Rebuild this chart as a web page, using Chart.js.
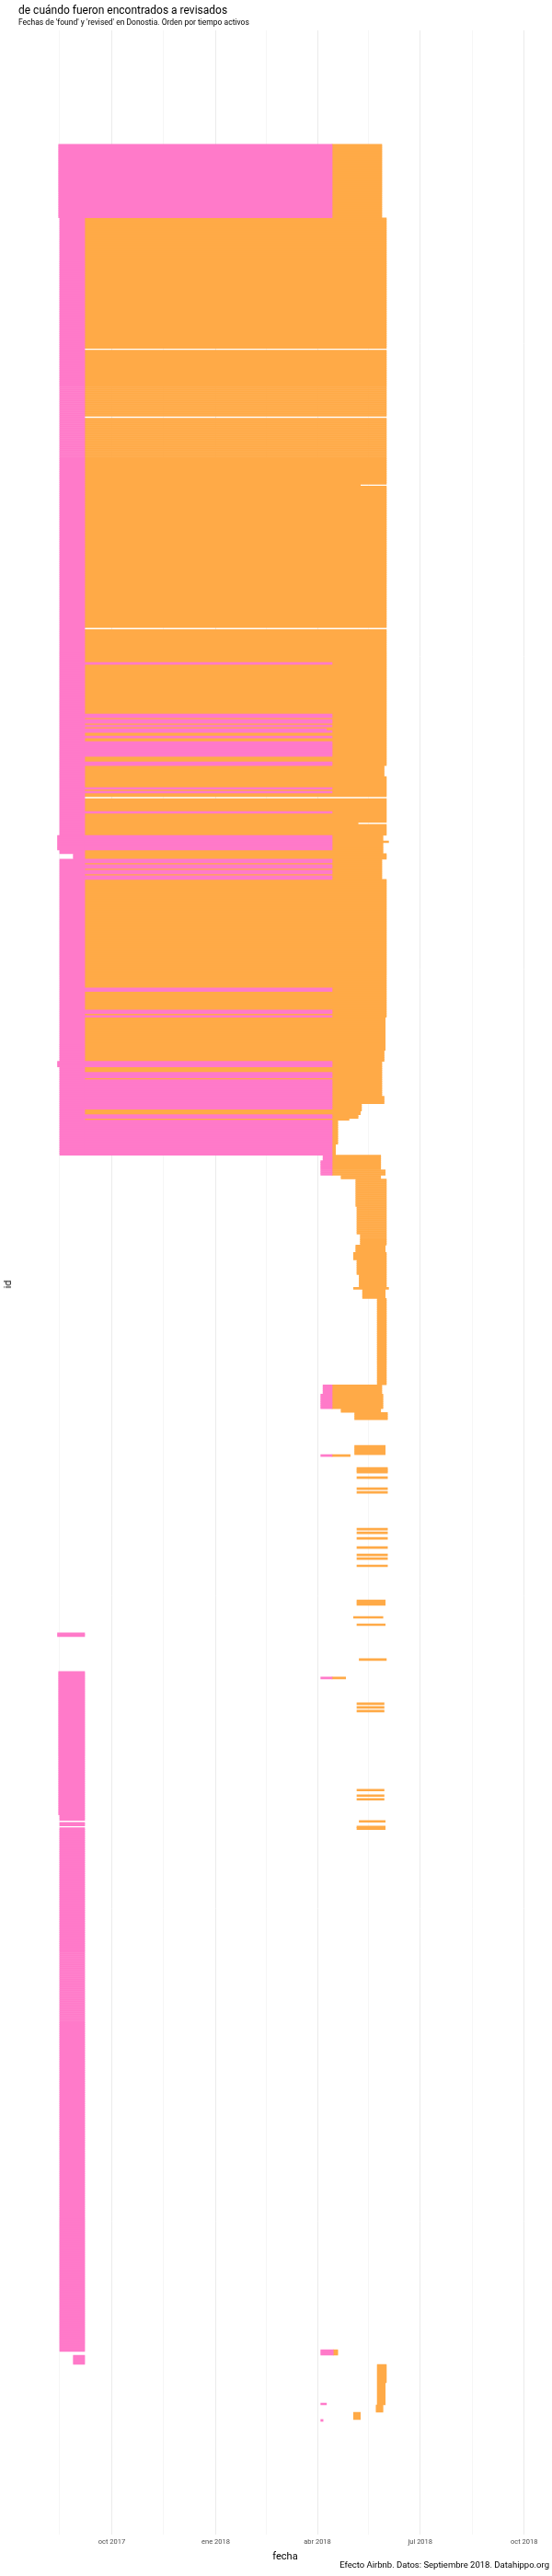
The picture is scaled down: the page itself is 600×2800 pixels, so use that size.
<!DOCTYPE html>
<html lang="es">
<head>
<meta charset="utf-8">
<title>Donostia: found y revised</title>
<script src="https://cdn.jsdelivr.net/npm/chart.js@4.4.1/dist/chart.umd.min.js"></script>
<style>
  html, body { margin: 0; padding: 0; background: #fff; }
  #wrap { position: relative; width: 600px; height: 2800px; }
  #title { position: absolute; left: 20px; top: 4px; font: 12px/14px Roboto, sans-serif; color: #000; white-space: nowrap; }
  #subtitle { position: absolute; left: 20px; top: 19px; font: 8.5px/10px Roboto, sans-serif; color: #000; white-space: nowrap; }
  #caption { position: absolute; right: 3px; top: 2782px; font: 9.5px/12px 'Liberation Sans Narrow', Roboto, sans-serif; color: #000; white-space: nowrap; }
  #ylabel { position: absolute; left: 9px; top: 1396px; font: 11px/12px 'Liberation Sans Narrow', Roboto, sans-serif; color: #000;
            transform: translate(-50%, -50%) rotate(-90deg); white-space: nowrap; }
</style>
</head>
<body>
<div id="wrap">
  <canvas id="segments"></canvas>
  <div id="title">de cuándo fueron encontrados a revisados</div>
  <div id="subtitle">Fechas de 'found' y 'revised' en Donostia. Orden por tiempo activos</div>
  <div id="ylabel">id</div>
  <div id="caption">Efecto Airbnb. Datos: Septiembre 2018. Datahippo.org</div>
</div>
<script>
// Axis range and ticks
const xStart = '2017-07-12';
const xEnd = '2018-10-24';
const rowMin = -62.5;
const rowMax = 1300;
const tickDates = ['2017-10-01', '2018-01-01', '2018-04-01', '2018-07-01', '2018-10-01'];
const tickLabels = ['oct 2017', 'ene 2018', 'abr 2018', 'jul 2018', 'oct 2018'];
const minorDates = ['2017-08-16', '2017-11-16', '2018-02-15', '2018-05-16', '2018-08-16'];

// [first row, rows, from, to]  - 'found' segments (pink)
const pinkRuns = [
  [0, 40, '2017-08-15', '2018-04-14'],
  [40, 346, '2017-08-16', '2017-09-07'],
  [386, 3, '2017-08-28', '2017-09-07'],
  [389, 161, '2017-08-16', '2017-09-07'],
  [376, 8, '2017-08-14', '2017-09-07'],
  [499, 3, '2017-08-14', '2017-09-07'],
  [282, 1, '2017-09-07', '2018-04-14'],
  [310, 2, '2017-09-07', '2018-04-14'],
  [313, 2, '2017-09-07', '2018-04-14'],
  [316, 1, '2017-09-07', '2018-04-14'],
  [318, 1, '2017-09-07', '2018-04-09'],
  [319, 1, '2017-09-07', '2018-04-14'],
  [322, 1, '2017-09-07', '2018-04-14'],
  [325, 8, '2017-09-07', '2018-04-14'],
  [336, 2, '2017-09-07', '2018-04-14'],
  [350, 1, '2017-09-07', '2018-04-14'],
  [352, 1, '2017-09-07', '2018-04-14'],
  [363, 1, '2017-09-07', '2018-04-14'],
  [376, 8, '2017-09-07', '2018-04-14'],
  [389, 2, '2017-09-07', '2018-04-14'],
  [392, 2, '2017-09-07', '2018-04-14'],
  [395, 2, '2017-09-07', '2018-04-14'],
  [398, 2, '2017-09-07', '2018-04-14'],
  [459, 2, '2017-09-07', '2018-04-14'],
  [471, 2, '2017-09-07', '2018-04-14'],
  [474, 1, '2017-09-07', '2018-04-14'],
  [499, 3, '2017-09-07', '2018-04-14'],
  [505, 3, '2017-09-07', '2018-04-14'],
  [509, 9, '2017-09-07', '2018-04-14'],
  [518, 4, '2017-09-07', '2018-04-14'],
  [522, 3, '2017-09-07', '2018-04-14'],
  [528, 2, '2017-09-07', '2018-04-14'],
  [531, 13, '2017-09-07', '2018-04-14'],
  [544, 6, '2017-09-07', '2018-04-14'],
  [550, 3, '2018-04-06', '2018-04-14'],
  [553, 8, '2018-04-04', '2018-04-14'],
  [675, 5, '2018-04-06', '2018-04-14'],
  [680, 8, '2018-04-04', '2018-04-14'],
  [713, 1, '2018-04-04', '2018-04-14'],
  [810, 2, '2017-08-14', '2017-09-07'],
  [831, 78, '2017-08-15', '2017-09-07'],
  [834, 1, '2018-04-04', '2018-04-14'],
  [909, 3, '2017-08-16', '2017-09-07'],
  [913, 2, '2017-08-16', '2017-09-07'],
  [916, 285, '2017-08-16', '2017-09-07'],
  [1200, 3, '2018-04-04', '2018-04-15'],
  [1203, 5, '2017-08-28', '2017-09-07'],
  [1229, 1, '2018-04-04', '2018-04-09'],
  [1238, 1, '2018-04-04', '2018-04-06']
];

// [first row, rows, from, to]  - 'revised' segments (orange)
const orangeRuns = [
  [0, 40, '2018-04-14', '2018-05-28'],
  [40, 71, '2017-09-07', '2018-06-01'],
  [112, 36, '2017-09-07', '2018-06-01'],
  [149, 36, '2017-09-07', '2018-06-01'],
  [185, 1, '2017-09-07', '2018-05-09'],
  [186, 77, '2017-09-07', '2018-06-01'],
  [264, 18, '2017-09-07', '2018-06-01'],
  [282, 1, '2018-04-14', '2018-06-01'],
  [283, 27, '2017-09-07', '2018-06-01'],
  [310, 2, '2018-04-14', '2018-06-01'],
  [312, 1, '2017-09-07', '2018-06-01'],
  [313, 2, '2018-04-14', '2018-06-01'],
  [315, 1, '2017-09-07', '2018-06-01'],
  [316, 1, '2018-04-14', '2018-06-01'],
  [317, 1, '2017-09-07', '2018-06-01'],
  [318, 1, '2018-04-09', '2018-06-01'],
  [319, 1, '2018-04-14', '2018-06-01'],
  [320, 2, '2017-09-07', '2018-06-01'],
  [322, 1, '2018-04-14', '2018-06-01'],
  [323, 2, '2017-09-07', '2018-06-01'],
  [325, 8, '2018-04-14', '2018-06-01'],
  [333, 3, '2017-09-07', '2018-06-01'],
  [336, 2, '2018-04-14', '2018-06-01'],
  [338, 6, '2017-09-07', '2018-05-30'],
  [344, 6, '2017-09-07', '2018-06-01'],
  [350, 1, '2018-04-14', '2018-06-01'],
  [351, 1, '2017-09-07', '2018-06-01'],
  [352, 1, '2018-04-14', '2018-06-01'],
  [353, 2, '2017-09-07', '2018-06-01'],
  [356, 7, '2017-09-07', '2018-06-01'],
  [363, 1, '2018-04-14', '2018-06-01'],
  [364, 5, '2017-09-07', '2018-06-01'],
  [369, 1, '2017-09-07', '2018-05-07'],
  [370, 6, '2017-09-07', '2018-06-01'],
  [376, 8, '2018-04-14', '2018-05-29'],
  [379, 1, '2018-04-14', '2018-06-03'],
  [384, 2, '2017-09-07', '2018-05-29'],
  [386, 3, '2017-09-07', '2018-06-01'],
  [389, 2, '2018-04-14', '2018-05-28'],
  [391, 1, '2017-09-07', '2018-05-28'],
  [392, 2, '2018-04-14', '2018-05-28'],
  [394, 1, '2017-09-07', '2018-05-28'],
  [395, 2, '2018-04-14', '2018-05-28'],
  [397, 1, '2017-09-07', '2018-05-28'],
  [398, 2, '2018-04-14', '2018-05-28'],
  [400, 59, '2017-09-07', '2018-06-01'],
  [459, 2, '2018-04-14', '2018-06-01'],
  [461, 10, '2017-09-07', '2018-06-01'],
  [471, 2, '2018-04-14', '2018-06-01'],
  [473, 1, '2017-09-07', '2018-06-01'],
  [474, 1, '2018-04-14', '2018-06-01'],
  [475, 18, '2017-09-07', '2018-05-31'],
  [493, 6, '2017-09-07', '2018-05-30'],
  [499, 3, '2018-04-14', '2018-05-28'],
  [502, 3, '2017-09-07', '2018-05-28'],
  [505, 3, '2018-04-14', '2018-05-28'],
  [508, 1, '2017-09-07', '2018-05-28'],
  [509, 9, '2018-04-14', '2018-05-28'],
  [518, 4, '2018-04-14', '2018-05-30'],
  [522, 3, '2018-04-14', '2018-05-10'],
  [525, 1, '2017-09-07', '2018-05-10'],
  [526, 2, '2017-09-07', '2018-05-09'],
  [528, 2, '2018-04-14', '2018-05-07'],
  [530, 1, '2017-09-07', '2018-04-29'],
  [531, 13, '2018-04-14', '2018-04-19'],
  [544, 6, '2018-04-14', '2018-04-17'],
  [550, 3, '2018-04-14', '2018-05-27'],
  [553, 5, '2018-04-14', '2018-05-27'],
  [558, 3, '2018-04-14', '2018-05-31'],
  [561, 2, '2018-04-22', '2018-05-27'],
  [563, 15, '2018-05-05', '2018-06-01'],
  [578, 15, '2018-05-06', '2018-06-01'],
  [593, 6, '2018-05-09', '2018-06-01'],
  [599, 4, '2018-05-05', '2018-05-31'],
  [603, 4, '2018-05-03', '2018-06-01'],
  [607, 8, '2018-05-06', '2018-06-01'],
  [615, 7, '2018-05-08', '2018-06-01'],
  [622, 1, '2018-05-03', '2018-06-03'],
  [623, 5, '2018-05-11', '2018-05-31'],
  [628, 47, '2018-05-24', '2018-06-01'],
  [675, 5, '2018-04-14', '2018-05-28'],
  [680, 8, '2018-04-14', '2018-05-29'],
  [688, 2, '2018-04-22', '2018-05-27'],
  [690, 4, '2018-05-04', '2018-06-02'],
  [708, 5, '2018-05-04', '2018-05-31'],
  [713, 1, '2018-04-14', '2018-04-30'],
  [720, 3, '2018-05-06', '2018-06-02'],
  [725, 1, '2018-05-06', '2018-06-02'],
  [731, 1, '2018-05-06', '2018-06-02'],
  [733, 1, '2018-05-06', '2018-06-02'],
  [753, 1, '2018-05-06', '2018-06-02'],
  [755, 1, '2018-05-06', '2018-06-02'],
  [758, 1, '2018-05-06', '2018-06-02'],
  [763, 1, '2018-05-06', '2018-06-02'],
  [767, 1, '2018-05-06', '2018-06-02'],
  [769, 1, '2018-05-06', '2018-06-02'],
  [773, 1, '2018-05-06', '2018-06-02'],
  [792, 3, '2018-05-06', '2018-05-31'],
  [801, 1, '2018-05-03', '2018-05-29'],
  [805, 1, '2018-05-06', '2018-05-31'],
  [824, 1, '2018-05-08', '2018-06-01'],
  [834, 1, '2018-04-14', '2018-04-26'],
  [848, 1, '2018-05-06', '2018-05-30'],
  [850, 1, '2018-05-06', '2018-05-30'],
  [852, 1, '2018-05-06', '2018-05-30'],
  [895, 1, '2018-05-06', '2018-05-30'],
  [898, 1, '2018-05-06', '2018-05-30'],
  [900, 1, '2018-05-06', '2018-05-30'],
  [912, 1, '2018-05-08', '2018-05-31'],
  [915, 2, '2018-05-06', '2018-05-31'],
  [1200, 3, '2018-04-15', '2018-04-19'],
  [1208, 10, '2018-05-24', '2018-06-01'],
  [1218, 12, '2018-05-24', '2018-05-31'],
  [1230, 4, '2018-05-23', '2018-05-29'],
  [1234, 4, '2018-05-03', '2018-05-09']
];

const day = s => Date.parse(s);
const majorValues = tickDates.map(day);

// one bar per id row
function expand(runs) {
  const out = [];
  runs.forEach(([row, n, from, to]) => {
    for (let i = 0; i < n; i++) {
      out.push({ y: row + i, x: [day(from), day(to)] });
    }
  });
  return out;
}

const barStyle = { grouped: false, barPercentage: 1, categoryPercentage: 1, borderWidth: 0 };
const narrow = "'Liberation Sans Narrow', Roboto, sans-serif";

new Chart(document.getElementById('segments'), {
  type: 'bar',
  data: {
    datasets: [
      Object.assign({ label: 'found', data: expand(pinkRuns), backgroundColor: '#ff7ac9' }, barStyle),
      Object.assign({ label: 'revised', data: expand(orangeRuns), backgroundColor: '#ffaa47' }, barStyle)
    ]
  },
  options: {
    indexAxis: 'y',
    responsive: true,
    maintainAspectRatio: false,
    animation: false,
    layout: { padding: { top: 33, right: 2, bottom: 12, left: 22 } },
    plugins: {
      legend: { display: false },
      tooltip: { enabled: false }
    },
    scales: {
      x: {
        type: 'linear',
        min: day(xStart),
        max: day(xEnd),
        afterBuildTicks: axis => {
          axis.ticks = minorDates.concat(tickDates).map(d => ({ value: day(d) }))
            .sort((a, b) => a.value - b.value);
        },
        ticks: {
          autoSkip: false,
          maxRotation: 0,
          padding: 4,
          color: '#4d4d4d',
          font: { family: 'Roboto', size: 7.5 },
          callback: v => {
            const i = majorValues.indexOf(v);
            return i < 0 ? '' : tickLabels[i];
          }
        },
        grid: {
          drawTicks: false,
          color: c => majorValues.includes(c.tick && c.tick.value) ? '#ebebeb' : '#f4f4f4',
          lineWidth: c => majorValues.includes(c.tick && c.tick.value) ? 1 : 0.8
        },
        border: { display: false },
        title: { display: true, text: 'fecha', color: '#000', font: { family: narrow, size: 11 }, padding: { top: 1, bottom: 2 } }
      },
      y: {
        type: 'linear',
        display: false,
        reverse: true,
        offset: false,
        grace: 0,
        min: rowMin,
        max: rowMax
      }
    }
  }
});
</script>
</body>
</html>
